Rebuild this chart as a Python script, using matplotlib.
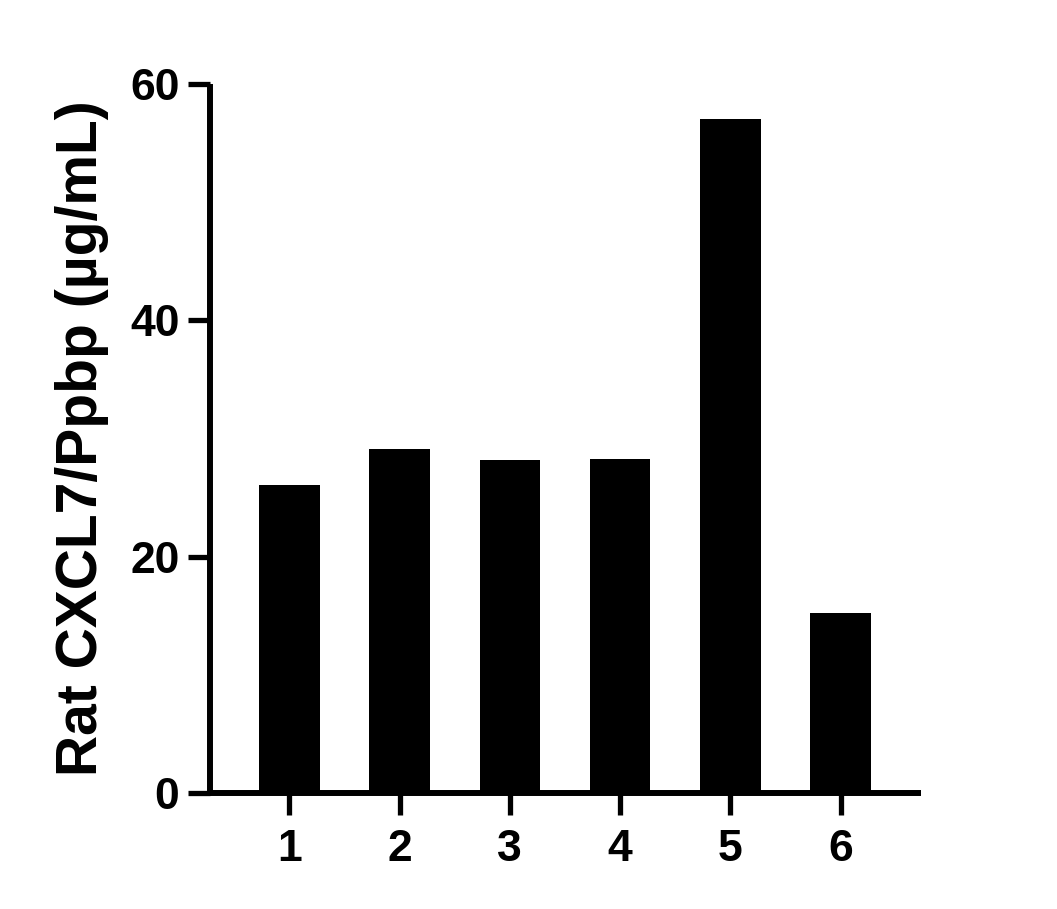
import numpy as np
import matplotlib
matplotlib.use("Agg")
from matplotlib import pyplot as plt

# values
groups = ["1", "2", "3", "4", "5", "6"]
values = [26.1, 29.1, 28.2, 28.3, 57.0, 15.2]
yticks = [0, 20, 40, 60]
ylabel = "Rat CXCL7/Ppbp (µg/mL)"

plt.rcParams['font.family'] = ['Liberation Sans', 'DejaVu Sans']
plt.rcParams['font.weight'] = 'bold'

fig = plt.figure(figsize=(10.57, 9.09), dpi=100)
ax = fig.add_axes([0.1987, 0.1276, 0.8713 - 0.1987, 0.9076 - 0.1276])

x = np.arange(1, len(groups) + 1)
ax.bar(x, values, width=0.55, color='black', edgecolor='black', linewidth=0)

ax.set_xlim(0.28, 6.73)
ax.set_ylim(0, 60)
ax.set_xticks(x)
ax.set_xticklabels(groups)
ax.set_yticks(yticks)

for s in ['top', 'right']:
    ax.spines[s].set_visible(False)
for s in ['left', 'bottom']:
    ax.spines[s].set_linewidth(4.3)
    ax.spines[s].set_capstyle('butt')

ax.tick_params(axis='both', length=16, width=3.8, labelsize=32, colors='black')
ax.tick_params(axis='y', pad=6)
ax.tick_params(axis='x', pad=10)
for lab in ax.get_xticklabels() + ax.get_yticklabels():
    lab.set_fontweight('bold')

ax.set_ylabel(ylabel, fontsize=41, fontweight='bold', labelpad=15)

fig.savefig("out.png", dpi=100)
